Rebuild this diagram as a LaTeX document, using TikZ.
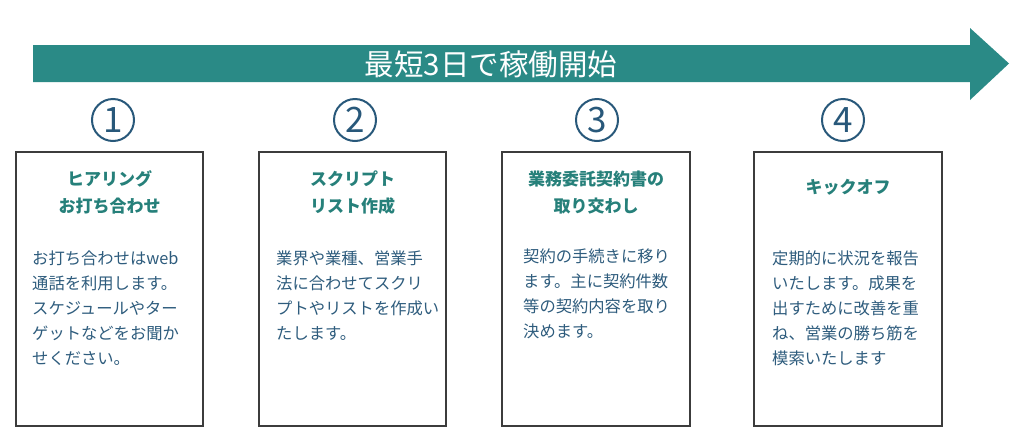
\documentclass[tikz,border=0pt]{standalone}
\usepackage{fontspec}
\setmainfont{Noto Sans CJK JP}
\newfontfamily\jp{Noto Sans CJK JP}
\definecolor{arrowteal}{RGB}{42,138,134}
\definecolor{titleteal}{RGB}{38,128,122}
\definecolor{bodyblue}{RGB}{46,92,125}
\definecolor{numblue}{RGB}{40,88,122}
\definecolor{boxgray}{RGB}{60,60,60}
\tikzset{
  stepframe/.style={draw=boxgray, line width=1.3pt},
  steptitle/.style={text=titleteal, font=\jp\bfseries\fontsize{17}{27}\selectfont, align=center, inner sep=0pt},
  stepbody/.style={text=bodyblue, font=\jp\fontsize{16.3}{25}\selectfont, align=left, inner sep=0pt, anchor=north west},
  stepnum/.style={circle, draw=numblue, line width=2pt, minimum size=42pt, inner sep=0pt, text=numblue, font=\jp\fontsize{35}{35}\selectfont},
}
\begin{document}
\begin{tikzpicture}[x=1pt,y=-1pt]
\useasboundingbox[fill=white] (0,0) rectangle (1024,445);
% big arrow
\fill[arrowteal] (33,45) -- (970,45) -- (970,28) -- (1009,63.5) -- (970,100) -- (970,82) -- (33,82) -- cycle;
\node[text=white, font=\jp\fontsize{29.5}{29.5}\selectfont, inner sep=0pt] (headline) at (491,64) {最短3日で稼働開始};
% circled numbers
\node[stepnum] (n1) at (113,120) {1};
\node[stepnum] (n2) at (355,120) {2};
\node[stepnum] (n3) at (597,120) {3};
\node[stepnum] (n4) at (843,120) {4};
% boxes
\draw[stepframe] (16,152) rectangle (203,426);
\draw[stepframe] (259,152) rectangle (446,426);
\draw[stepframe] (502,152) rectangle (690,426);
\draw[stepframe] (754,152) rectangle (942,426);
% titles
\node[steptitle] (t1) at (109.5,192) {ヒアリング\\お打ち合わせ};
\node[steptitle] (t2) at (352.5,193) {スクリプト\\リスト作成};
\node[steptitle] (t3) at (596,193) {業務委託契約書の\\取り交わし};
\node[steptitle] (t4) at (848,187) {キックオフ};
% bodies
\node[stepbody] (b1) at (32,251) {お打ち合わせはweb\\通話を利用します。\\スケジュールやター\\ゲットなどをお聞か\\せください。};
\node[stepbody] (b2) at (276,251) {業界や業種、営業手\\法に合わせてスクリ\\プトやリストを作成い\\たします。};
\node[stepbody] (b3) at (523,249) {契約の手続きに移り\\ます。主に契約件数\\等の契約内容を取り\\決めます。};
\node[stepbody] (b4) at (772,251) {定期的に状況を報告\\いたします。成果を\\出すために改善を重\\ね、営業の勝ち筋を\\模索いたします};
\end{tikzpicture}
\end{document}
